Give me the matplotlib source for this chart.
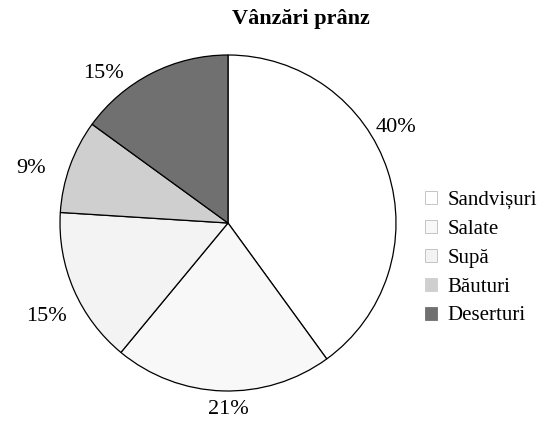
import numpy as np
import matplotlib.pyplot as plt

# Lunch sales share by category
categories = ['Sandvișuri', 'Salate', 'Supă', 'Băuturi', 'Deserturi']
shares = [40, 21, 15, 9, 15]
colors = ['#ffffff', '#f8f8f8', '#f3f3f3', '#cfcfcf', '#707070']

# label placement tweaks (degrees past mid-angle, radius multiple)
label_shift = [11.7, 1.8, 3.9, 4.2, 12.8]
label_dist = [1.152, 1.113, 1.219, 1.217, 1.16]

plt.rcParams['font.family'] = ['Liberation Serif', 'DejaVu Serif']

fig = plt.figure(figsize=(5.52, 4.26), dpi=100)
ax = fig.add_axes([60 / 552, (426 - 223 - 168) / 426, 336 / 552, 336 / 426])

wedges, texts = ax.pie(
    shares, colors=colors, startangle=90, counterclock=False,
    wedgeprops={'edgecolor': 'black', 'linewidth': 0.9},
)
ax.set_xlim(-1, 1)
ax.set_ylim(-1, 1)

for w, s, shift, d in zip(wedges, shares, label_shift, label_dist):
    ang = np.deg2rad((w.theta1 + w.theta2) / 2 + shift)
    ax.text(d * np.cos(ang), d * np.sin(ang), f'{s}%', ha='center',
            va='center', fontsize=16)

fig.text(301 / 552, 1 - 19 / 426, 'Vânzări prânz', ha='center', va='center',
         fontsize=16, fontweight='bold')

leg = fig.legend(wedges, categories, loc='center left',
                 bbox_to_anchor=(406 / 552, 1 - 258 / 426), frameon=False,
                 fontsize=15, handlelength=0.6, handleheight=0.6,
                 handletextpad=0.5, labelspacing=0.48)
for h, c in zip(leg.legend_handles, colors):
    h.set_edgecolor('#bbbbbb' if c > '#e0e0e0' else c)
    h.set_linewidth(0.6)

fig.savefig('out.png', dpi=100)
